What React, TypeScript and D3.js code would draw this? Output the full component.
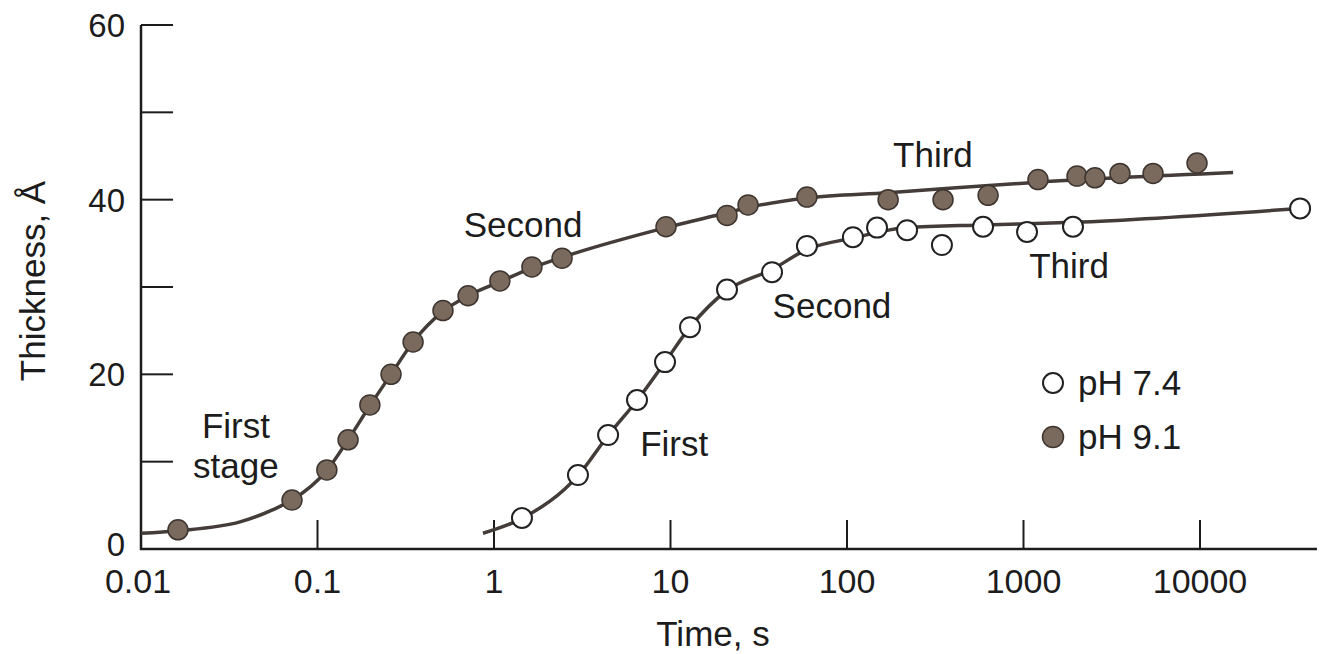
import React from "react";
import * as d3 from "d3";

// ---- data ----
const ph91Time = [0.0162, 0.0717, 0.113, 0.149, 0.198, 0.261, 0.348, 0.514, 0.713, 1.08, 1.64, 2.43, 9.43, 20.9, 27.5, 59.3, 171, 350, 630, 1208, 2010, 2540, 3520, 5420, 9620];
const ph91Thick = [2.2, 5.6, 9.05, 12.5, 16.5, 20.0, 23.7, 27.3, 29.0, 30.7, 32.3, 33.3, 36.9, 38.2, 39.4, 40.3, 40.0, 40.0, 40.5, 42.3, 42.7, 42.5, 43.0, 43.0, 44.2];

const ph74Time = [1.44, 2.99, 4.43, 6.46, 9.31, 12.9, 20.9, 37.6, 59.3, 108, 148, 219, 345, 590, 1047, 1907, 36900];
const ph74Thick = [3.55, 8.47, 13.05, 17.06, 21.4, 25.4, 29.7, 31.7, 34.7, 35.7, 36.8, 36.5, 34.8, 36.9, 36.3, 36.9, 39.0];

// fitted curves
const fit91Time = [0.01, 0.0162, 0.0364, 0.056, 0.0717, 0.113, 0.149, 0.198, 0.261, 0.348, 0.514, 0.713, 1.08, 1.64, 2.43, 9.43, 20.9, 27.5, 59.3, 171, 1208, 15400];
const fit91Thick = [1.8, 2.1, 3.1, 4.5, 5.6, 9.0, 12.5, 16.4, 20.0, 23.7, 27.2, 29.0, 30.6, 32.2, 33.4, 36.8, 38.5, 39.1, 40.2, 40.8, 42.0, 43.1];

const fit74Time = [0.866, 1.44, 2.99, 4.43, 6.46, 9.31, 12.9, 20.9, 37.6, 59.3, 108, 219, 590, 1907, 36900];
const fit74Thick = [1.8, 3.5, 8.4, 13.0, 17.0, 21.4, 25.4, 29.6, 32.0, 34.3, 35.6, 36.8, 37.1, 37.4, 39.0];

const xTicks = [0.01, 0.1, 1, 10, 100, 1000, 10000];
const xTickLabels = ["0.01", "0.1", "1", "10", "100", "1000", "10000"];
const yTicks = [0, 10, 20, 30, 40, 50, 60];
const yTickLabels = [0, 20, 40, 60];
const xAxisMax = 46000;

const annotTexts = ["First", "stage", "Second", "Third", "First", "Second", "Third"];
const annotTime = [0.0345, 0.0345, 1.46, 307, 10.5, 82.2, 1811];
const annotThick = [12.7, 8.1, 35.7, 43.7, 10.65, 26.45, 31.0];

const legendLabels = ["pH 7.4", "pH 9.1"];

// ---- styles ----
const FONT = "'Liberation Sans', Arial, Helvetica, sans-serif";
const INK = "#1c1c1c";
const LINE = "#443c38";
const FILL = "#7a6a5d";

export default function App() {
  const x = d3.scaleLog().domain([0.01, 10000]).range([141, 1200]);
  const y = d3.scaleLinear().domain([0, 60]).range([549, 25]);

  const line = d3
    .line<[number, number]>()
    .x((d) => x(d[0]))
    .y((d) => y(d[1]))
    .curve(d3.curveMonotoneX);

  const fit91 = fit91Time.map((t, i) => [t, fit91Thick[i]] as [number, number]);
  const fit74 = fit74Time.map((t, i) => [t, fit74Thick[i]] as [number, number]);

  const x0 = x(0.01);
  const y0 = y(0);

  return (
    <svg
      width={1320}
      height={654}
      style={{ position: "absolute", left: 0, top: 0, background: "#fff" }}
      fontFamily={FONT}
    >
      <rect x={0} y={0} width={1320} height={654} fill="#fff" />
      {/* axes */}
      <line x1={x0} y1={y(60)} x2={x0} y2={y0 + 1} stroke={INK} strokeWidth={2.5} />
      <line x1={x0 - 1} y1={y0} x2={x(xAxisMax)} y2={y0} stroke={INK} strokeWidth={2.5} />
      {yTicks.map((v) => (
        <line key={"yt" + v} x1={x0} x2={x0 + 32} y1={y(v)} y2={y(v)} stroke={INK} strokeWidth={2} />
      ))}
      {xTicks.slice(1).map((v) => (
        <line key={"xt" + v} x1={x(v)} x2={x(v)} y1={y0} y2={y0 - 29} stroke={INK} strokeWidth={2} />
      ))}
      {yTickLabels.map((v) => (
        <text key={"yl" + v} x={125} y={y(v) + (v === 0 ? 7 : 12)} textAnchor="end" fontSize={33} fill={INK}>
          {v}
        </text>
      ))}
      {xTicks.map((v, i) => (
        <text key={"xl" + v} x={x(v) - (i === 0 ? 3 : 0)} y={593} textAnchor="middle" fontSize={34} fill={INK}>
          {xTickLabels[i]}
        </text>
      ))}
      <text x={713} y={646} textAnchor="middle" fontSize={35} fill={INK}>
        Time, s
      </text>
      <text
        transform={`translate(45,281) rotate(-90)`}
        textAnchor="middle"
        fontSize={35}
        fill={INK}
      >
        Thickness, Å
      </text>

      {/* fitted curves */}
      <path d={line(fit91) || ""} fill="none" stroke={LINE} strokeWidth={3.5} />
      <path d={line(fit74) || ""} fill="none" stroke={LINE} strokeWidth={3.5} />

      {/* points */}
      {ph91Time.map((t, i) => (
        <circle key={"p91" + i} cx={x(t)} cy={y(ph91Thick[i])} r={10} fill={FILL} stroke="#3e3530" strokeWidth={1.5} />
      ))}
      {ph74Time.map((t, i) => (
        <circle key={"p74" + i} cx={x(t)} cy={y(ph74Thick[i])} r={10} fill="#fff" stroke="#222" strokeWidth={2} />
      ))}

      {/* annotations */}
      {annotTexts.map((s, i) => (
        <text key={"an" + i} x={x(annotTime[i])} y={y(annotThick[i])} textAnchor="middle" fontSize={35} fill={INK}>
          {s}
        </text>
      ))}

      {/* legend */}
      <circle cx={1053} cy={383} r={10} fill="#fff" stroke="#222" strokeWidth={2} />
      <text x={1078} y={395} fontSize={35} fill={INK}>
        {legendLabels[0]}
      </text>
      <circle cx={1053} cy={437} r={10.5} fill={FILL} stroke="#3e3530" strokeWidth={1.5} />
      <text x={1078} y={449} fontSize={35} fill={INK}>
        {legendLabels[1]}
      </text>
    </svg>
  );
}
